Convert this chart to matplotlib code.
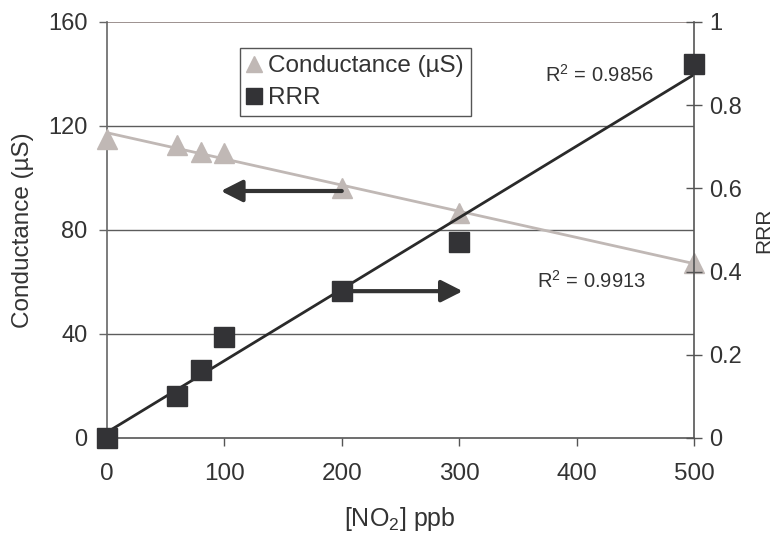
import numpy as np
import matplotlib
matplotlib.use("Agg")
import matplotlib.pyplot as plt

plt.rcParams["font.family"] = ["Liberation Sans", "DejaVu Sans"]
plt.rcParams["mathtext.fontset"] = "custom"
plt.rcParams["mathtext.rm"] = "Liberation Sans"
plt.rcParams["mathtext.it"] = "Liberation Sans"

# NO2 concentration (ppb)
no2_ppb = [0, 60, 80, 100, 200, 300, 500]
# sensor conductance (uS)
conductance = [115.0, 112.7, 110.0, 109.5, 96.0, 86.5, 67.3]
# relative resistance response
rrr = [0.0, 0.10, 0.163, 0.243, 0.353, 0.47, 0.90]

r2_rrr = "R$^2$ = 0.9856"
r2_cond = "R$^2$ = 0.9913"

cond_ticks = [0, 40, 80, 120, 160]
rrr_ticks = [0, 0.2, 0.4, 0.6, 0.8, 1]
rrr_tick_labels = ["0", "0.2", "0.4", "0.6", "0.8", "1"]
x_ticks = [0, 100, 200, 300, 400, 500]

TEXT = "#333333"
TRI = "#c0b8b5"
SQ = "#333336"
GRID = "#5c5c5c"

W, H = 777, 534
fig = plt.figure(figsize=(W / 100, H / 100), dpi=100)
ax = fig.add_axes([107 / W, 96 / H, 587 / W, 416 / H])
ax2 = ax.twinx()

x = np.array(no2_ppb, dtype=float)
xf = np.array([0, 500], dtype=float)

# linear trend lines
pc = np.polyfit(x, conductance, 1)
pr = np.polyfit(x, rrr, 1)

ax.set_xlim(0, 500)
ax.set_ylim(0, 160)
ax2.set_ylim(0, 1)

for yv in cond_ticks[1:-1]:
    ax.axhline(yv, color=GRID, lw=1.0, zorder=0)
ax.axhline(160, color="#8c7f7d", lw=1.2, zorder=0)

ax.plot(xf, np.polyval(pc, xf), color=TRI, lw=2.0, zorder=2)
ax.plot(x, conductance, ls="none", marker="^", ms=15, color=TRI,
        mec=TRI, zorder=3, clip_on=False, label="Conductance (µS)")

ax2.plot(xf, np.polyval(pr, xf), color="#2a2a2a", lw=2.0, zorder=2)
ax2.plot(x, rrr, ls="none", marker="s", ms=15, color=SQ, mec=SQ,
         zorder=3, clip_on=False, label="RRR")

# direction arrows pointing to the relevant axis
ax.annotate("", xy=(97, 95), xytext=(200, 95),
            arrowprops=dict(arrowstyle="-|>,head_length=0.65,head_width=0.33",
                            lw=3, color="#333333", mutation_scale=20,
                            shrinkA=0, shrinkB=0), zorder=4)
ax2.annotate("", xy=(303, 0.353), xytext=(200, 0.353),
             arrowprops=dict(arrowstyle="-|>,head_length=0.65,head_width=0.33",
                             lw=3, color="#333333", mutation_scale=20,
                             shrinkA=0, shrinkB=0), zorder=2)

ax.text(373, 139.6, r2_rrr, fontsize=14.5, color=TEXT, va="center", ha="left")
ax.text(366, 60.4, r2_cond, fontsize=14.5, color=TEXT, va="center", ha="left")

# axes styling
ax.set_xticks(x_ticks)
ax.set_yticks(cond_ticks)
ax2.set_yticks(rrr_ticks)
ax2.set_yticklabels(rrr_tick_labels)
for a in (ax, ax2):
    a.spines["top"].set_visible(False)
    a.set_facecolor("none")
ax.spines["right"].set_visible(False)
ax2.spines["left"].set_visible(False)
ax2.spines["bottom"].set_visible(False)
ax.spines["left"].set_color("#666666")
ax.spines["bottom"].set_color("#555555")
ax2.spines["right"].set_color("#555555")
for s in ("left", "bottom"):
    ax.spines[s].set_linewidth(1.2)
ax2.spines["right"].set_linewidth(1.2)

ax.tick_params(axis="y", direction="out", length=6, width=1, color="#666666",
               labelsize=17, labelcolor=TEXT, pad=8)
ax.tick_params(axis="x", direction="out", length=6, width=1, color="#555555",
               labelsize=17.5, labelcolor=TEXT, pad=12)
ax2.tick_params(axis="y", direction="inout", length=12, width=1, color="#555555",
                labelsize=17, labelcolor=TEXT, pad=5)

# axis titles placed in figure pixels
fig.text(400 / W, 1 - 519 / H, "[NO$_2$] ppb", fontsize=18, color=TEXT,
         ha="center", va="center")
fig.text(23 / W, 1 - 230 / H, "Conductance (µS)", fontsize=17.5, color=TEXT,
         ha="center", va="center", rotation=90)
fig.text(764 / W, 1 - 230 / H, "RRR", fontsize=15, color=TEXT,
         ha="center", va="center", rotation=90)

h1, l1 = ax.get_legend_handles_labels()
h2, l2 = ax2.get_legend_handles_labels()
leg = ax2.legend(h1 + h2, l1 + l2, loc="upper left",
                 bbox_to_anchor=(240 / W, 1 - 48 / H),
                 bbox_transform=fig.transFigure, borderaxespad=0,
                 fontsize=17.5, frameon=True, fancybox=False, framealpha=1,
                 edgecolor="#555555", handlelength=0.55, handletextpad=0.3,
                 borderpad=0.3, labelspacing=0.4, markerscale=0.8)
leg.get_frame().set_linewidth(1.0)
for t in leg.get_texts():
    t.set_color(TEXT)

fig.savefig("out.png", dpi=100, facecolor="white")
